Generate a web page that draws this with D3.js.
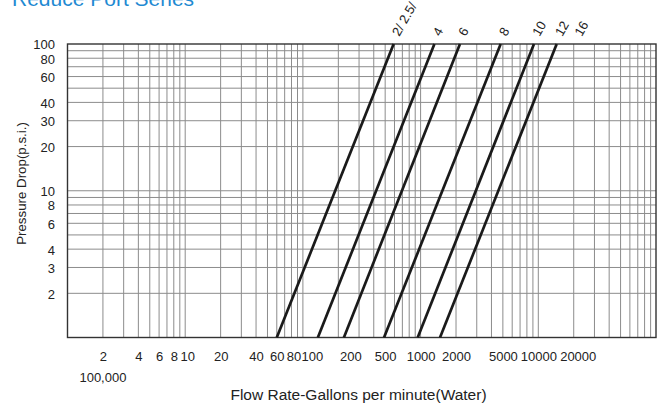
<!DOCTYPE html>
<html>
<head>
<meta charset="utf-8">
<script src="https://cdn.jsdelivr.net/npm/d3@7"></script>
<style>
  html, body { margin: 0; padding: 0; background: #ffffff; }
  svg { display: block; font-family: "Liberation Sans", Arial, sans-serif; }
</style>
</head>
<body>
<svg id="chart" width="665" height="405"></svg>
<script>
// ---------- data ----------
const title = "Reduce Port Series";
const xTitle = "Flow Rate-Gallons per minute(Water)";
const yTitle = "Pressure Drop(p.s.i.)";
const flowTicks = [2, 4, 6, 8, 10, 20, 40, 60, 80, 100, 200, 500, 1000, 2000, 5000, 10000, 20000];
const flowTickLabels = ["2", "4", "6", "8", "10", "20", "40", "60", "80", "100", "200", "500", "1000", "2000", "5000", "10000", "20000"];
const flowExtraLabel = "100,000";
const pressureTicks = [100, 80, 60, 40, 30, 20, 10, 8, 6, 4, 3, 2];
const pressureTickLabels = ["100", "80", "60", "40", "30", "20", "10", "8", "6", "4", "3", "2"];
const flowDomain = [1, 100000];
const pressureDomain = [1, 100];
// valve sizes: flow (gpm) at 1 psi and at 100 psi
const sizeLabels = ["2/ 2.5/", "4", "6", "8", "10", "12", "16"];
const flowAt1psi = [60, 134, 223, 489, 945, 1462, null];
const flowAt100psi = [590, 1310, 2160, 4790, 9190, 14330, 21000];

// ---------- layout ----------
const svg = d3.select("#chart");
const mL = 67.5, mR = 656, mT = 44, mB = 337.5;

const x = d3.scaleLog().domain(flowDomain).range([mL, mR]);
const y = d3.scaleLog().domain(pressureDomain).range([mB, mT]);

// grid values (1..9 x each decade)
function decadeGrid(domain) {
  const out = [];
  for (let p = Math.round(Math.log10(domain[0])); p < Math.round(Math.log10(domain[1])); p++) {
    for (let m = 1; m <= 9; m++) out.push(m * Math.pow(10, p));
  }
  out.push(domain[1]);
  return out;
}
const xGrid = decadeGrid(flowDomain).filter(v => v > flowDomain[0] && v < flowDomain[1]);
const yGrid = decadeGrid(pressureDomain).filter(v => v > pressureDomain[0] && v < pressureDomain[1]);

const grid = svg.append("g").attr("stroke", "#8c8c8c").attr("stroke-width", 1);
grid.selectAll("line.vx").data(xGrid).join("line")
  .attr("x1", d => x(d)).attr("x2", d => x(d))
  .attr("y1", mT).attr("y2", mB);
grid.selectAll("line.hy").data(yGrid).join("line")
  .attr("x1", mL).attr("x2", mR)
  .attr("y1", d => y(d)).attr("y2", d => y(d));

// frame
svg.append("rect")
  .attr("x", mL).attr("y", mT)
  .attr("width", mR - mL).attr("height", mB - mT)
  .attr("fill", "none").attr("stroke", "#333").attr("stroke-width", 1.4);

// ---------- series lines ----------
const series = sizeLabels.map((s, i) => ({ label: s, q1: flowAt1psi[i], q100: flowAt100psi[i] }));
svg.append("g").selectAll("line").data(series.filter(d => d.q1 != null)).join("line")
  .attr("x1", d => x(d.q1)).attr("y1", y(pressureDomain[0]))
  .attr("x2", d => x(d.q100)).attr("y2", y(pressureDomain[1]))
  .attr("stroke", "#1a1a1a").attr("stroke-width", 2.7).attr("stroke-linecap", "butt");

// size labels, rotated
svg.append("g").selectAll("text").data(series).join("text")
  .attr("transform", d => `translate(${x(d.q100) + 5.5},${mT - 7}) rotate(-60)`)
  .attr("font-size", 13).attr("fill", "#222")
  .text(d => d.label);

// ---------- axes ----------
const labelNudge = { 10: 2, 80: 2, 100: 9, 200: 12, 20000: 4 };
const xAxis = d3.axisBottom(x).tickValues(flowTicks)
  .tickFormat((d, i) => flowTickLabels[i]).tickSize(0).tickPadding(14);
const gx = svg.append("g").attr("transform", `translate(0,${mB})`).call(xAxis);
gx.select(".domain").remove();
gx.selectAll("text").attr("font-size", 13).attr("font-family", "Liberation Sans, Arial, sans-serif")
  .attr("fill", "#222").attr("dx", d => labelNudge[d] || 0);

svg.append("text").attr("x", x(flowTicks[0])).attr("y", 381.5)
  .attr("text-anchor", "middle").attr("font-size", 13).attr("fill", "#222")
  .text(flowExtraLabel);

const yAxis = d3.axisLeft(y).tickValues(pressureTicks)
  .tickFormat((d, i) => pressureTickLabels[i]).tickSize(0).tickPadding(12.5);
const gy = svg.append("g").attr("transform", `translate(${mL},0)`).call(yAxis);
gy.select(".domain").remove();
gy.selectAll("text").attr("font-size", 13).attr("font-family", "Liberation Sans, Arial, sans-serif")
  .attr("fill", "#222").attr("dy", "0.38em");

// axis titles
svg.append("text").attr("x", 358.5).attr("y", 399.5)
  .attr("text-anchor", "middle").attr("font-size", 15.5).attr("fill", "#222")
  .text(xTitle);
svg.append("text").attr("transform", "translate(25.5,183.5) rotate(-90)")
  .attr("text-anchor", "middle").attr("font-size", 13.3).attr("fill", "#222")
  .text(yTitle);

// title (partly cut at top)
svg.append("text").attr("x", 12).attr("y", 5.5)
  .attr("font-size", 21).attr("fill", "#1f8ad2")
  .text(title);
</script>
</body>
</html>
